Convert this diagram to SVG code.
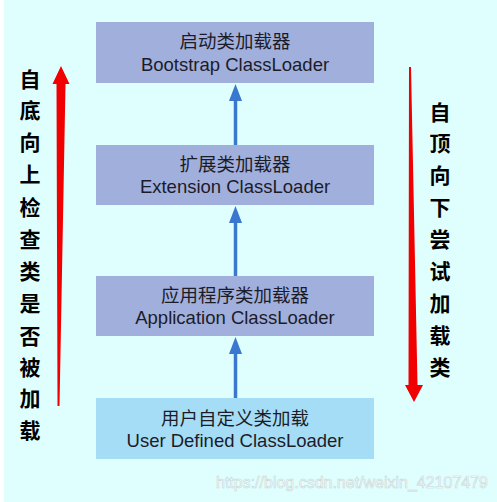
<svg xmlns="http://www.w3.org/2000/svg" width="497" height="502" viewBox="0 0 497 502">
<style>
.box{fill:#A1AFDD}
.ubox{fill:#A6DDF6}
.t{font-family:"Liberation Sans","Noto Sans CJK SC",sans-serif;font-size:18.5px;fill:#1C1C28;text-anchor:middle}
.v{font-family:"Liberation Serif","Noto Sans CJK SC",serif;font-size:21px;font-weight:bold;fill:#000;text-anchor:middle}
.blue{stroke:#3A78CF;stroke-width:3.5;fill:none}
.red{fill:#F00000}
</style>
<defs>
<marker id="ah" markerWidth="14" markerHeight="18" refX="6.5" refY="0" orient="auto-start-reverse" markerUnits="userSpaceOnUse" viewBox="0 0 13 18">
<path d="M6.5 0 L13 17 L0 17 Z" fill="#3A78CF"/>
</marker>
</defs>
<rect x="0" y="0" width="497" height="502" fill="#FFFFFF"/>
<rect x="4" y="0" width="493" height="502" fill="#DEFFFE"/>
<g id="connectors">
<line class="blue" x1="235.5" y1="145" x2="235.5" y2="99"/>
<path d="M235.5 84 L242 101 L229 101 Z" fill="#3A78CF"/>
<line class="blue" x1="235.5" y1="276" x2="235.5" y2="221"/>
<path d="M235.5 206 L242 223 L229 223 Z" fill="#3A78CF"/>
<line class="blue" x1="235.5" y1="398" x2="235.5" y2="352"/>
<path d="M235.5 337 L242 354 L229 354 Z" fill="#3A78CF"/>
</g>
<g id="bootstrap">
<rect class="box" x="96" y="22" width="278" height="61"/>
<text class="t" x="235" y="48">启动类加载器</text>
<text class="t" x="235" y="71">Bootstrap ClassLoader</text>
</g>
<g id="extension">
<rect class="box" x="96" y="145" width="278" height="60"/>
<text class="t" x="235" y="171">扩展类加载器</text>
<text class="t" x="235" y="193">Extension ClassLoader</text>
</g>
<g id="application">
<rect class="box" x="96" y="276" width="278" height="60"/>
<text class="t" x="235" y="302">应用程序类加载器</text>
<text class="t" x="235" y="324">Application ClassLoader</text>
</g>
<g id="userdefined">
<rect class="ubox" x="96" y="398" width="278" height="61"/>
<text class="t" x="235" y="425">用户自定义类加载</text>
<text class="t" x="235" y="447">User Defined ClassLoader</text>
</g>
<g id="left-arrow">
<polygon class="red" points="61,66 69.5,84 65.5,84 59.5,406 57.5,406 56.5,84 52.5,84"/>
<text class="v" x="30" y="87">自</text>
<text class="v" x="30" y="118">底</text>
<text class="v" x="30" y="150">向</text>
<text class="v" x="30" y="182">上</text>
<text class="v" x="30" y="215">检</text>
<text class="v" x="30" y="247">查</text>
<text class="v" x="30" y="279">类</text>
<text class="v" x="30" y="311">是</text>
<text class="v" x="30" y="344">否</text>
<text class="v" x="30" y="375">被</text>
<text class="v" x="30" y="406">加</text>
<text class="v" x="30" y="438">载</text>
</g>
<g id="right-arrow">
<polygon class="red" points="409,67 411,67 417.5,385 423,385 414,402 405,385 408.5,385"/>
<text class="v" x="440" y="120">自</text>
<text class="v" x="440" y="151">顶</text>
<text class="v" x="440" y="183">向</text>
<text class="v" x="440" y="215">下</text>
<text class="v" x="440" y="247">尝</text>
<text class="v" x="440" y="279">试</text>
<text class="v" x="440" y="311">加</text>
<text class="v" x="440" y="343">载</text>
<text class="v" x="440" y="375">类</text>
</g>
<text x="216" y="488" textLength="272" lengthAdjust="spacingAndGlyphs" style="font-family:'Liberation Sans',sans-serif;font-size:16px;fill:#FFFFFF;stroke:#C8D4D4;stroke-width:0.6">https://blog.csdn.net/weixin_42107479</text>
</svg>
